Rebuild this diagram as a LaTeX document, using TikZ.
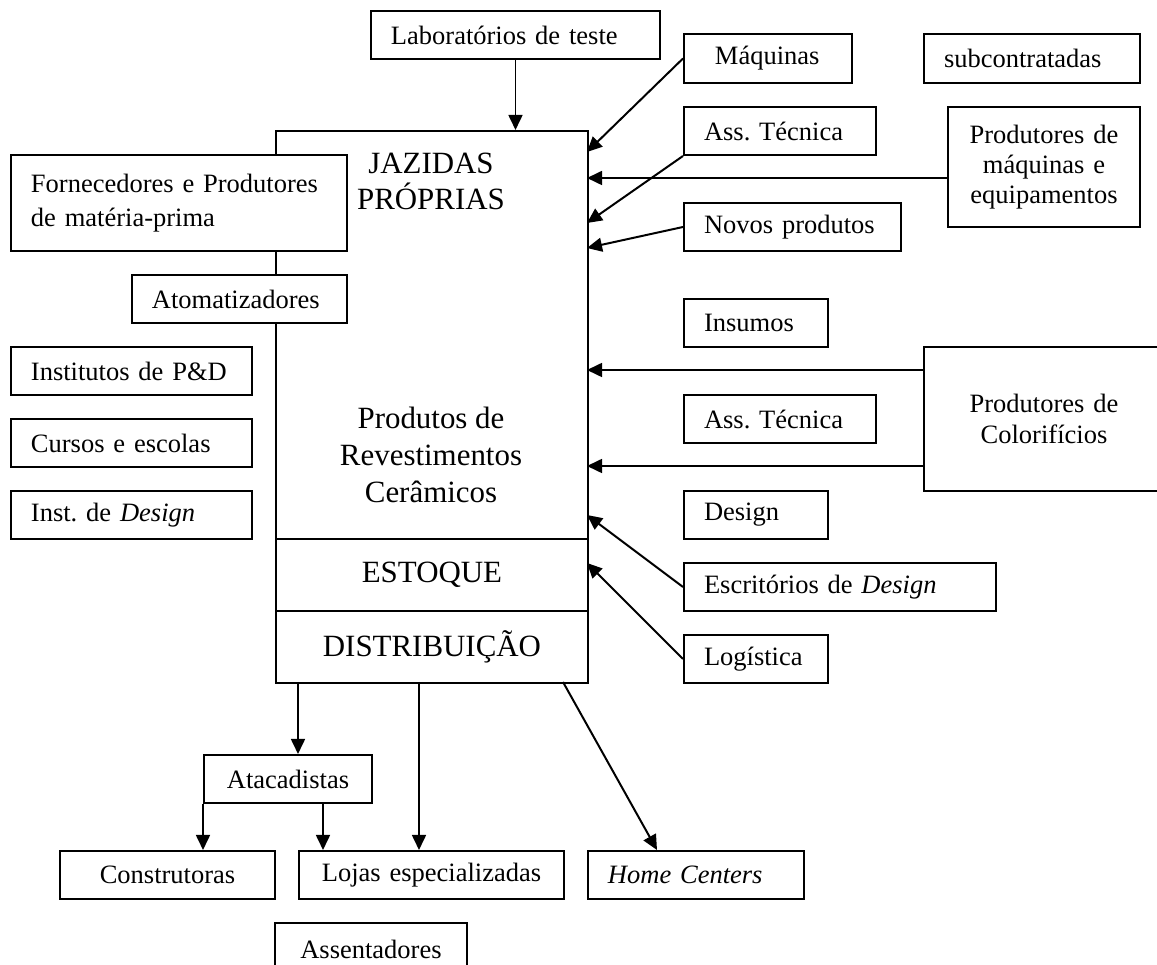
\documentclass[tikz,border=0pt]{standalone}
\usepackage{fontspec}
\setmainfont{Liberation Serif}
\usetikzlibrary{arrows.meta,calc}
\frenchspacing
\newlength\pxu
\setlength\pxu{0.4528pt}
\newcommand\fp{\fontsize{12}{15}\selectfont}
\newcommand\fg{\fontsize{14}{16.5}\selectfont}
\tikzset{
  caixa/.style={draw, line width=0.9pt, fill=white, anchor=north west,
    inner xsep=20*\pxu, inner ysep=0pt, align=left, font=\fp},
  tam/.style 2 args={text width=#1*\pxu-40*\pxu, minimum height=#2*\pxu},
  seta/.style={line width=0.9pt, -{Triangle[length=6.8pt,width=6.3pt]}},
}
\begin{document}
\begin{tikzpicture}[x=0.4528pt, y=-0.4528pt]
  \useasboundingbox (0,0) rectangle (1157,965);

  % bloco central
  \node[caixa, tam={312}{408}] (fab) at (275,130) {};
  \node[font=\fontsize{14}{16.3}\selectfont, align=center] (jaz) at (431,181) {JAZIDAS\\PRÓPRIAS};
  \node[font=\fontsize{14}{16.75}\selectfont, align=center] (prod) at (431,455) {Produtos de\\Revestimentos\\Cerâmicos};
  \node[caixa, tam={312}{72}, align=center, font=\fg] (est) at (275,538) {ESTOQUE};
  \node[caixa, tam={312}{72}, align=center, font=\fg] (dist) at (275,610) {DISTRIBUIÇÃO};

  % esquerda
  \node[caixa, tam={336}{96}, font=\fontsize{12}{15.4}\selectfont] (forn) at (10,154) {Fornecedores e Produtores\\de matéria-prima};
  \node[caixa, tam={215}{48}] (atom) at (131,274) {Atomatizadores};
  \node[caixa, tam={241}{48}] (inst) at (10,346) {Institutos de P\&D};
  \node[caixa, tam={241}{48}] (cur) at (10,418) {Cursos e escolas};
  \node[caixa, tam={241}{48}] (idd) at (10,490) {Inst. de \textit{Design}};

  % topo e direita
  \node[caixa, tam={289}{48}] (lab) at (370,10) {Laboratórios de teste};
  \node[caixa, tam={168}{49}, inner xsep=31*\pxu, text width=106*\pxu] (maq) at (683,33) {Máquinas};
  \node[caixa, tam={216}{49}] (sub) at (923,33) {subcontratadas};
  \node[caixa, tam={192}{48}] (ast1) at (683,106) {Ass. Técnica};
  \node[caixa, tam={192}{120}, align=center, font=\fontsize{12}{13.6}\selectfont] (pme) at (947,106) {Produtores de\\máquinas e\\equipamentos};
  \node[caixa, tam={217}{48}] (np) at (683,202) {Novos produtos};
  \node[caixa, tam={144}{48}] (ins) at (683,298) {Insumos};
  \node[caixa, tam={240}{144}, align=center, font=\fontsize{12}{14}\selectfont] (col) at (923,346) {Produtores de\\Colorifícios};
  \node[caixa, tam={192}{48}] (ast2) at (683,394) {Ass. Técnica};
  \node[caixa, tam={144}{48}] (des) at (683,490) {Design};
  \node[caixa, tam={312}{48}] (esc) at (683,562) {Escritórios de \textit{Design}};
  \node[caixa, tam={144}{48}] (log) at (683,634) {Logística};

  % baixo
  \node[caixa, tam={168}{48}, align=center] (atac) at (203,754) {Atacadistas};
  \node[caixa, tam={215}{48}, align=center] (con) at (59,850) {Construtoras};
  \node[caixa, tam={265}{48}, align=center] (loj) at (298,850) {Lojas especializadas};
  \node[caixa, tam={216}{48}] (home) at (587,850) {\textit{Home Centers}};
  \node[caixa, tam={192}{52}, align=center] (ass) at (274,922) {Assentadores};

  % pontos na borda do bloco
  \coordinate (e1) at (587,152);
  \coordinate (e2) at (587,178);
  \coordinate (e3) at (587,223);
  \coordinate (e4) at (587,248);
  \coordinate (e5) at (587,370);
  \coordinate (e6) at (587,466);
  \coordinate (e7) at (587,515);
  \coordinate (e8) at (587,563);
  \coordinate (s1) at (298,682);
  \coordinate (s2) at (419,682);
  \coordinate (s3) at (563,682);
  \coordinate (a2) at ($(atac.south west)+(120,0)$);

  \draw[seta] (lab.south) -- (lab.south |- fab.north);
  \foreach \a/\b in {maq.west/e1, ast1.south west/e3, np.west/e4, esc.west/e7, log.west/e8}
    \draw[seta] (\a) -- (\b);
  \draw[seta] (pme.west |- e2) -- (e2);
  \draw[seta] (col.west |- e5) -- (e5);
  \draw[seta] (col.west |- e6) -- (e6);

  \draw[seta] (s1) -- (s1 |- atac.north);
  \draw[seta] (s2) -- (s2 |- loj.north);
  \draw[seta] (s3) -- ($(home.north west)+(70,0)$);
  \draw[seta] (atac.south west) -- (atac.south west |- con.north);
  \draw[seta] (a2) -- (a2 |- loj.north);
\end{tikzpicture}
\end{document}
